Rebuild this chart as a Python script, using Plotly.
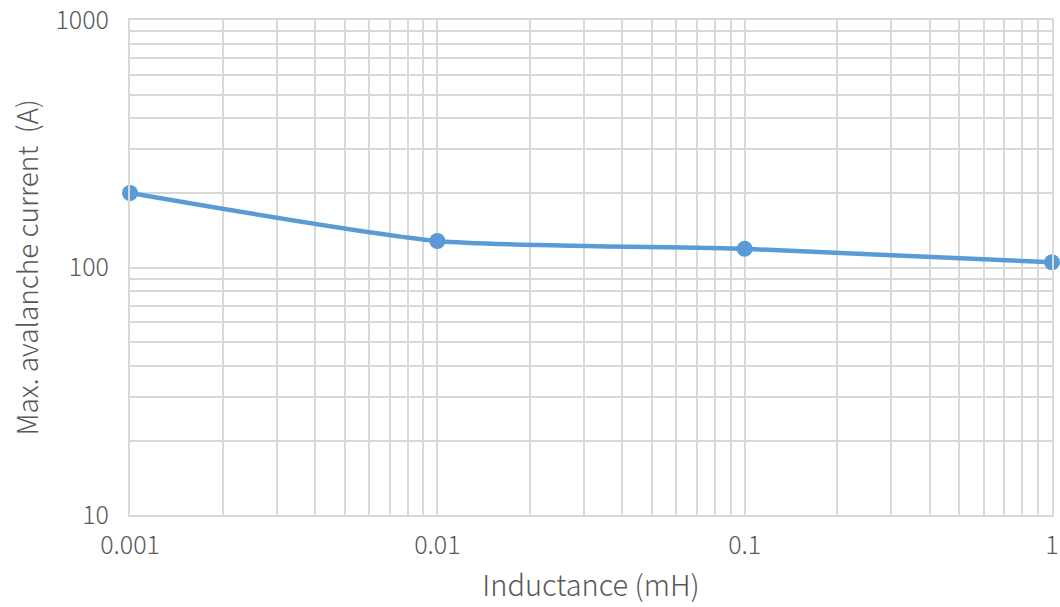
import plotly.graph_objects as go

inductance_mH = [0.001, 0.01, 0.1, 1]
max_current_A = [200, 128, 119, 105]
x_ticks = [0.001, 0.01, 0.1, 1]
x_tick_labels = ["0.001", "0.01", "0.1", "1"]
y_ticks = [10, 100, 1000]
y_tick_labels = ["10", "100", "1000"]
y_title = "Max. avalanche current  (A)"
x_title = "Inductance (mH)"

FONT = "Noto Sans CJK SC, Noto Sans, sans-serif"
GRID = "#d9d9d9"
TXT = "#595959"

fig = go.Figure(go.Scatter(
    x=inductance_mH, y=max_current_A, mode="lines+markers",
    line=dict(color="#5b9bd5", width=4.5, shape="spline", smoothing=0.6),
    marker=dict(color="#5b9bd5", size=16),
    cliponaxis=False,
))

fig.update_layout(
    width=1060, height=607,
    margin=dict(l=130, r=8, t=20, b=92),
    paper_bgcolor="white", plot_bgcolor="white",
    showlegend=False,
    font=dict(family=FONT, color=TXT, size=25, weight=300),
)
fig.update_xaxes(
    type="log", range=[-3, 0], automargin=False,
    tickvals=x_ticks, ticktext=x_tick_labels, ticklabeloverflow="allow",
    showgrid=True, gridcolor=GRID, gridwidth=1.5,
    minor=dict(showgrid=True, gridcolor=GRID, gridwidth=1.5, dtick="D1"),
    showline=True, linecolor=GRID, linewidth=2, mirror=True,
    zeroline=False, ticks="", ticklen=0, ticklabelstandoff=7,
    tickfont=dict(size=25, color=TXT, weight=300),
    title=dict(text=x_title, font=dict(size=29, color=TXT, weight=300), standoff=16),
)
fig.update_yaxes(
    type="log", range=[1, 3], automargin=False,
    tickvals=y_ticks, ticktext=y_tick_labels, ticklabeloverflow="allow",
    showgrid=True, gridcolor=GRID, gridwidth=1.5,
    minor=dict(showgrid=True, gridcolor=GRID, gridwidth=1.5, dtick="D1"),
    showline=True, linecolor=GRID, linewidth=2, mirror=True,
    zeroline=False, ticks="", ticklen=0, ticklabelstandoff=14,
    tickfont=dict(size=25, color=TXT, weight=300),
)
fig.add_annotation(
    text=y_title, textangle=-90, showarrow=False,
    xref="paper", yref="paper", x=0, y=0.5,
    xanchor="center", yanchor="middle", xshift=-105,
    font=dict(size=28, color=TXT, weight=300),
)

fig.write_html(
    "out.html",
    config={"displayModeBar": False},
    post_script="document.body.style.margin='0';document.body.style.overflow='hidden';",
)
